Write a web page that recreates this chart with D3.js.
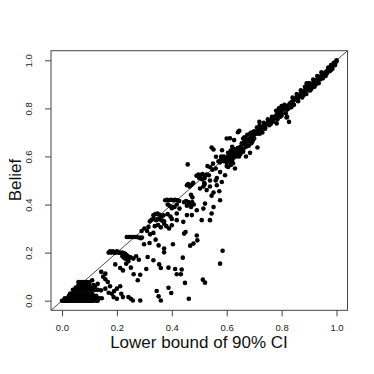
<!DOCTYPE html>
<html>
<head>
<meta charset="utf-8">
<script src="https://cdn.jsdelivr.net/npm/d3@7"></script>
<style>
  body { margin: 0; background: #fff; }
  text { font-family: "Liberation Sans", Arial, sans-serif; }
</style>
</head>
<body>
<svg width="374" height="374"></svg>
<script>
// tick values for both axes
var ticks = [0, 0.2, 0.4, 0.6, 0.8, 1.0];

// points, [lower bound, belief]
var cornerCluster = [
  [0.0,0.0],[0.005,0.0],[0.01,0.0],[0.015,0.0],[0.02,0.0],[0.025,0.0],[0.03,0.0],[0.035,0.0],[0.04,0.0],[0.045,0.0],
  [0.05,0.0],[0.055,0.0],[0.06,0.0],[0.065,0.0],[0.07,0.0],[0.075,0.0],[0.08,0.0],[0.085,0.0],[0.09,0.0],[0.095,0.0],
  [0.1,0.0],[0.105,0.0],[0.11,0.0],[0.115,0.0],[0.125,0.0],[0.13,0.0],
  [0.01,0.01],[0.02,0.01],[0.03,0.01],[0.04,0.01],[0.05,0.01],[0.06,0.01],[0.07,0.01],[0.08,0.01],
  [0.09,0.01],[0.1,0.01],[0.11,0.01],[0.12,0.01],[0.135,0.01],[0.145,0.01],
  [0.025,0.02],[0.035,0.02],[0.045,0.02],[0.055,0.02],[0.065,0.02],[0.075,0.02],
  [0.085,0.02],[0.095,0.02],[0.105,0.02],[0.115,0.02],[0.125,0.02],
  [0.03,0.03],[0.04,0.03],[0.05,0.03],[0.06,0.03],[0.07,0.03],[0.08,0.03],[0.09,0.03],[0.1,0.03],[0.11,0.03],
  [0.04,0.045],[0.05,0.045],[0.06,0.045],[0.07,0.045],[0.08,0.045],[0.09,0.045],[0.1,0.045],[0.11,0.045],
  [0.12,0.045],[0.13,0.045],
  [0.05,0.055],[0.06,0.055],[0.07,0.055],[0.08,0.055],[0.09,0.055],[0.1,0.055],[0.11,0.055],
  [0.06,0.065],[0.07,0.065],[0.08,0.065],[0.09,0.065],[0.1,0.065],[0.115,0.065],
  [0.06,0.078],[0.07,0.078],[0.08,0.078],[0.09,0.078],[0.1,0.078],
  [0.12,0.06],[0.13,0.07],[0.11,0.085]
];

var lowerScatter = [
  [0.158,0.1125],[0.158,0.089],[0.167,0.078],[0.142,0.043],[0.158,0.05],[0.17,0.033],[0.182,0.029],[0.188,0.015],
  [0.2,0.008],[0.212,0.06],[0.216,0.029],[0.222,0.015],[0.19,0.04],[0.242,0.015],[0.251,0.008],[0.258,0.001],
  [0.285,0.001],[0.194,0.151],[0.212,0.136],[0.222,0.126],[0.234,0.154],[0.242,0.164],[0.251,0.1375],[0.261,0.11],
  [0.276,0.085],[0.285,0.108],[0.307,0.132],[0.312,0.182],[0.333,0.168],[0.354,0.151],[0.36,0.136],[0.388,0.1375],
  [0.345,0.04],[0.352,0.018],[0.36,0.001],[0.388,0.054],[0.398,0.032],[0.412,0.132],[0.418,0.11],[0.433,0.11],
  [0.436,0.13],[0.44,0.179],[0.448,0.074],[0.462,0.008],[0.513,0.0875],[0.521,0.075],[0.576,0.154],[0.585,0.208],
  [0.404,0.235],[0.372,0.201],[0.467,0.229],[0.479,0.2375],[0.491,0.271],[0.493,0.251],[0.445,0.279],[0.45,0.286],
  [0.291,0.2625],[0.299,0.235],[0.319,0.24],[0.321,0.276],[0.333,0.282],[0.341,0.254],[0.352,0.23],[0.372,0.217],
  [0.143,0.12],[0.15,0.1],[0.175,0.06],[0.2,0.05]
];

var row20 = [
  [0.17,0.2],[0.175,0.205],[0.18,0.2],[0.185,0.205],[0.19,0.2],[0.195,0.2],[0.2,0.205],[0.205,0.2],[0.21,0.2],
  [0.215,0.198],[0.22,0.2],[0.225,0.197],[0.23,0.195],[0.235,0.19],[0.24,0.185],[0.245,0.18],
  [0.22,0.185],[0.225,0.18],[0.23,0.175],[0.24,0.17],[0.25,0.18],[0.26,0.175],[0.27,0.185],[0.28,0.17]
];

var midBand = [
  [0.236,0.265],[0.243,0.265],[0.25,0.265],[0.258,0.265],[0.265,0.265],[0.272,0.265],[0.28,0.263],[0.287,0.26],
  [0.29,0.29],[0.3,0.3],[0.31,0.29],[0.315,0.307],
  [0.32,0.33],[0.327,0.338],[0.335,0.34],[0.343,0.335],[0.35,0.34],[0.357,0.338],[0.365,0.333],[0.372,0.33],
  [0.333,0.355],[0.34,0.36],[0.348,0.362],[0.356,0.357],[0.363,0.35],[0.37,0.355],
  [0.338,0.31],[0.35,0.315],[0.36,0.305],[0.372,0.32],[0.38,0.31],[0.39,0.3],
  [0.385,0.36],[0.395,0.35],[0.4,0.34],[0.4,0.314],[0.418,0.335],
  [0.376,0.418],[0.383,0.42],[0.39,0.418],[0.398,0.42],[0.405,0.418],[0.412,0.42],[0.42,0.418],[0.427,0.415],
  [0.385,0.4],[0.392,0.395],[0.4,0.385],[0.41,0.39],[0.418,0.4],
  [0.445,0.41],[0.452,0.415],[0.46,0.41],[0.467,0.405],[0.474,0.41],[0.48,0.4],[0.455,0.395],[0.47,0.39],
  [0.475,0.43],[0.47,0.44],
  [0.455,0.48],[0.46,0.485],[0.465,0.475],[0.472,0.482],[0.478,0.49],
  [0.473,0.356],[0.515,0.383],[0.521,0.404],[0.545,0.3625],[0.539,0.335],[0.552,0.39],[0.509,0.335],
  [0.491,0.376],[0.455,0.356],[0.442,0.328],[0.428,0.383],[0.418,0.3625],[0.406,0.39],
  [0.49,0.52],[0.497,0.525],[0.505,0.523],[0.512,0.527],[0.52,0.52],[0.527,0.525],[0.535,0.522],
  [0.5,0.51],[0.51,0.505],[0.52,0.51],[0.515,0.475],[0.52,0.485],
  [0.503,0.467],[0.518,0.49],[0.527,0.46],[0.539,0.475],[0.545,0.437],[0.552,0.45],[0.564,0.48],
  [0.576,0.418],[0.573,0.455],[0.539,0.5],[0.56,0.5],[0.564,0.51],[0.582,0.494],[0.594,0.522],[0.576,0.535],
  [0.458,0.567]
];

var diagBand = [
  [0.545,0.6375],[0.552,0.629],[0.561,0.599],[0.57,0.58],[0.575,0.575],[0.58,0.59],[0.58,0.6],[0.59,0.58],
  [0.583,0.626],[0.53,0.56],[0.54,0.555],[0.55,0.57],[0.56,0.55],[0.548,0.545],
  [0.605,0.556],[0.623,0.572],[0.63,0.55],[0.612,0.676],[0.641,0.701],
  [0.6,0.59],[0.605,0.6],[0.61,0.595],[0.615,0.61],[0.62,0.6],[0.625,0.615],[0.63,0.61],[0.635,0.62],[0.64,0.615],
  [0.645,0.625],[0.6,0.575],[0.61,0.58],[0.62,0.585],[0.625,0.595],[0.63,0.63],[0.615,0.625],[0.64,0.635],
  [0.65,0.64],[0.655,0.63],[0.65,0.61],[0.59,0.6],[0.595,0.585],[0.605,0.615],[0.62,0.64],[0.635,0.6],
  [0.645,0.6],[0.66,0.62],[0.67,0.6],[0.6,0.56],[0.615,0.565],
  [0.655,0.655],[0.66,0.65],[0.665,0.665],[0.67,0.66],[0.675,0.67],[0.68,0.665],[0.685,0.675],[0.69,0.68],
  [0.695,0.685],[0.7,0.69],[0.665,0.68],[0.675,0.69],[0.69,0.7],[0.7,0.705],[0.68,0.645],[0.695,0.665],
  [0.66,0.675],[0.67,0.64],[0.685,0.695],[0.705,0.7],[0.66,0.63],[0.675,0.645],[0.69,0.655],[0.7,0.675],
  [0.71,0.695],[0.715,0.71],[0.72,0.705],[0.725,0.72],[0.73,0.715],[0.735,0.725],[0.74,0.73],[0.745,0.735],
  [0.75,0.74],[0.755,0.745],[0.76,0.75],[0.72,0.73],[0.735,0.74],[0.75,0.755],[0.74,0.715],[0.755,0.73],
  [0.76,0.735],[0.73,0.7],[0.71,0.72],[0.765,0.765],[0.72,0.695],[0.74,0.72],[0.76,0.74],
  [0.77,0.76],[0.775,0.765],[0.78,0.77],[0.785,0.775],[0.79,0.78],[0.795,0.785],[0.8,0.79],[0.805,0.795],
  [0.81,0.8],[0.815,0.805],[0.82,0.81],[0.78,0.79],[0.79,0.8],[0.8,0.81],[0.81,0.815],[0.785,0.755],
  [0.8,0.77],[0.815,0.78],[0.77,0.745],[0.795,0.765],[0.825,0.8],[0.82,0.765],[0.78,0.76],[0.8,0.78],
  [0.82,0.795],
  [0.83,0.82],[0.835,0.825],[0.84,0.83],[0.845,0.835],[0.85,0.84],[0.855,0.845],[0.86,0.85],[0.865,0.855],
  [0.87,0.86],[0.875,0.865],[0.88,0.87],[0.885,0.875],[0.89,0.88],[0.84,0.845],[0.855,0.86],[0.87,0.875],
  [0.885,0.89],[0.845,0.815],[0.86,0.83],[0.875,0.845],[0.89,0.86],[0.835,0.805],[0.84,0.82],[0.86,0.84],
  [0.88,0.855],
  [0.895,0.885],[0.9,0.89],[0.905,0.895],[0.91,0.9],[0.915,0.905],[0.92,0.91],[0.925,0.915],[0.93,0.92],
  [0.935,0.925],[0.94,0.93],[0.945,0.935],[0.95,0.94],[0.955,0.945],[0.96,0.95],[0.9,0.905],[0.915,0.92],
  [0.93,0.935],[0.945,0.95],[0.905,0.875],[0.92,0.89],[0.935,0.905],[0.95,0.925],[0.91,0.885],[0.925,0.9],
  [0.9,0.875],[0.92,0.9],[0.94,0.92],[0.96,0.935],
  [0.965,0.955],[0.97,0.96],[0.975,0.965],[0.98,0.97],[0.985,0.975],[0.99,0.98],[0.995,0.99],[1.0,0.995],
  [1.0,1.0],[0.97,0.97],[0.98,0.98],[0.99,0.99],[0.96,0.94],[0.975,0.955],[0.985,0.965],[0.995,0.98],
  [0.965,0.945],[0.98,0.96]
];

var outliers = [
  [0.646,0.707],[0.6,0.675],[0.627,0.668],[0.685,0.615],[0.712,0.6375],[0.719,0.744],[0.782,0.7375],
  [0.818,0.762],[0.827,0.744],[0.842,0.814],[0.891,0.904]
];

var points = [].concat(cornerCluster, lowerScatter, row20, midBand, diagBand, outliers);

var svg = d3.select('svg');

// plot region like R's default 4% padding
var xScale = d3.scaleLinear().domain([-0.04, 1.04]).range([51, 347.5]);
var yScale = d3.scaleLinear().domain([-0.04, 1.04]).range([310.3, 50.7]);

svg.append('clipPath').attr('id', 'plotclip')
  .append('rect')
  .attr('x', 51).attr('y', 50.7)
  .attr('width', 296.5).attr('height', 259.6);

// identity line
svg.append('line')
  .attr('clip-path', 'url(#plotclip)')
  .attr('x1', xScale(-0.04)).attr('y1', yScale(-0.04))
  .attr('x2', xScale(1.04)).attr('y2', yScale(1.04))
  .attr('stroke', '#222')
  .attr('stroke-width', 0.8);

svg.append('g')
  .selectAll('circle')
  .data(points)
  .enter()
  .append('circle')
  .attr('cx', function(d) { return xScale(d[0]); })
  .attr('cy', function(d) { return yScale(d[1]); })
  .attr('r', 2.3)
  .attr('fill', 'black');

// box
svg.append('rect')
  .attr('x', 51).attr('y', 50.7)
  .attr('width', 296.5).attr('height', 259.6)
  .attr('fill', 'none')
  .attr('stroke', '#444')
  .attr('stroke-width', 1);

var xAxis = d3.axisBottom(xScale)
  .tickValues(ticks)
  .tickFormat(d3.format('.1f'))
  .tickSize(6)
  .tickPadding(8);

var yAxis = d3.axisLeft(yScale)
  .tickValues(ticks)
  .tickFormat(d3.format('.1f'))
  .tickSize(6)
  .tickPadding(9);

var gx = svg.append('g')
  .attr('class', 'x axis')
  .attr('transform', 'translate(0,310.3)')
  .call(xAxis);

var gy = svg.append('g')
  .attr('class', 'y axis')
  .attr('transform', 'translate(51,0)')
  .call(yAxis);

[gx, gy].forEach(function(g) {
  g.select('.domain').remove();
  g.selectAll('line').attr('stroke', '#444');
  g.selectAll('text')
    .attr('font-size', '9.5px')
    .attr('fill', '#222')
    .attr('font-family', '"Liberation Sans", Arial, sans-serif');
});

// y tick labels run parallel to the axis
gy.selectAll('text')
  .attr('text-anchor', 'middle')
  .attr('x', null)
  .attr('dy', null)
  .attr('transform', 'translate(-19,0) rotate(-90)');

svg.append('text')
  .attr('class', 'x label')
  .attr('x', 199)
  .attr('y', 348)
  .attr('text-anchor', 'middle')
  .attr('font-size', '17px')
  .attr('fill', '#111')
  .text('Lower bound of 90% CI');

svg.append('text')
  .attr('class', 'y label')
  .attr('transform', 'translate(21,180) rotate(-90)')
  .attr('text-anchor', 'middle')
  .attr('font-size', '17px')
  .attr('fill', '#111')
  .text('Belief');
</script>
</body>
</html>
